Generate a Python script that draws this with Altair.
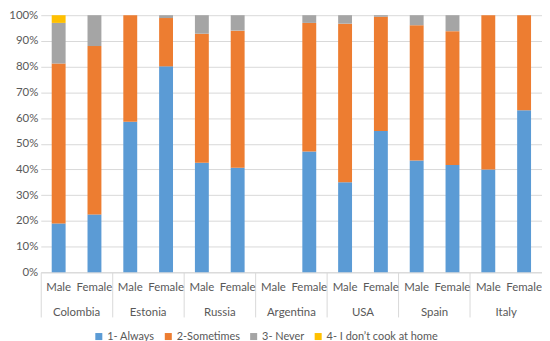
import altair as alt
import pandas as pd

countries = ["Colombia", "Estonia", "Russia", "Argentina", "USA", "Spain", "Italy"]
genders = ["Male", "Female"]
answers = ["1- Always", "2-Sometimes", "3- Never", "4- I don\u2019t cook at home"]
colors = ["#5b9bd5", "#ed7d31", "#a5a5a5", "#ffc000"]

# order: Colombia M, Colombia F, Estonia M, Estonia F, ...
always    = [19.0, 22.5, 58.6, 80.1, 42.6, 40.7, 0, 47.0, 35.0, 55.0, 43.5, 41.7, 40.0, 63.0]
sometimes = [62.2, 65.5, 41.4, 18.8, 50.2, 53.3, 0, 50.0, 61.7, 44.4, 52.6, 52.1, 60.0, 37.0]
never     = [15.8, 12.0, 0.0, 1.1, 7.2, 6.0, 0, 3.0, 3.3, 0.6, 3.9, 6.2, 0.0, 0.0]
dontcook  = [3.0, 0, 0, 0, 0, 0, 0, 0, 0, 0, 0, 0, 0, 0]

series = [always, sometimes, never, dontcook]
rows = []
for si, (ans, vals) in enumerate(zip(answers, series)):
    for i, v in enumerate(vals):
        rows.append({"country": countries[i // 2], "gender": genders[i % 2],
                     "answer": ans, "order": si, "value": v})
df = pd.DataFrame(rows)
labels_df = pd.DataFrame([{"country": c, "gender": g} for c in countries for g in genders])

FONT = "Lato"
FS = 11.5
TXT = "#595959"
H = 259

x_enc = alt.X("country:N", sort=countries, title=None,
              scale=alt.Scale(paddingInner=0, paddingOuter=0),
              axis=alt.Axis(bandPosition=0, tickSize=45, tickColor="#d9d9d9",
                            domainColor="#d9d9d9", labelAngle=0, labelPadding=-10,
                            labelColor=TXT, labelFont=FONT, labelFontSize=FS, grid=False))
xo_enc = alt.XOffset("gender:N", sort=genders, scale=alt.Scale(paddingInner=0, paddingOuter=0))

bars = alt.Chart(df).mark_bar(width=14).encode(
    x=x_enc,
    xOffset=xo_enc,
    y=alt.Y("value:Q", stack="zero", title=None,
            scale=alt.Scale(domain=[0, 100], nice=False),
            axis=alt.Axis(values=list(range(0, 101, 10)), labelExpr="datum.value + '%'",
                          domain=False, ticks=False, gridColor="#d9d9d9",
                          labelColor=TXT, labelFont=FONT, labelFontSize=FS, labelPadding=3)),
    color=alt.Color("answer:N", sort=answers,
                    scale=alt.Scale(domain=answers, range=colors),
                    legend=alt.Legend(title=None, orient="none", direction="horizontal",
                                      legendX=53, legendY=H + 59, symbolType="square",
                                      symbolSize=50, columnPadding=8, labelOffset=3,
                                      labelFont=FONT, labelFontSize=11,
                                      labelColor=TXT, symbolStrokeWidth=0)),
    order=alt.Order("order:Q", sort="ascending"),
)

glabels = alt.Chart(labels_df).mark_text(font=FONT, fontSize=FS, color=TXT, baseline="middle").encode(
    x=alt.X("country:N", sort=countries),
    xOffset=alt.XOffset("gender:N", sort=genders),
    y=alt.value(H + 16),
    text="gender:N",
)

chart = alt.layer(bars, glabels).properties(
    width=505, height=H, padding={"left": 0, "top": 0, "right": 0, "bottom": 0}
).configure_view(stroke=None)

chart.save("out.html", embed_options={"renderer": "svg", "actions": False})
